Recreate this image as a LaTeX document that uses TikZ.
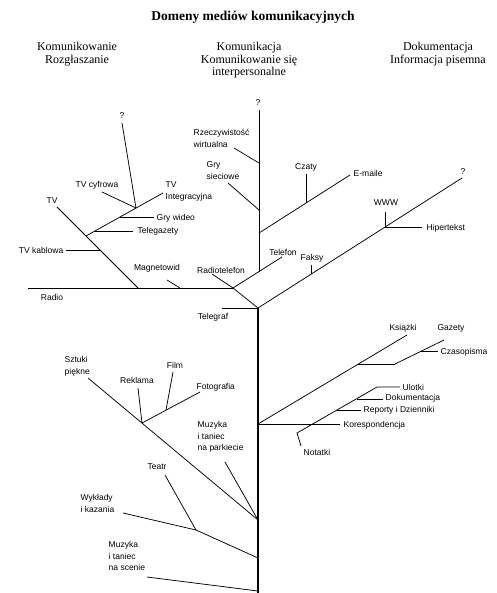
\documentclass[tikz,border=0pt]{standalone}
\usepackage{fontspec}
\setmainfont{Liberation Serif}
\setsansfont{Liberation Sans}
\usepackage{tikz}

\begin{document}
\begin{tikzpicture}[x=1pt, y=-1pt,
  lbl/.style={font=\sffamily\fontsize{8.5}{11.5}\selectfont, inner sep=0.5pt, align=left},
  head/.style={font=\fontsize{12}{12.5}\selectfont, align=center, anchor=north},
  br/.style={line width=0.75pt}]
\useasboundingbox (0,0) rectangle (496,593);

\node[font=\bfseries\fontsize{13.5}{15}\selectfont] (title) at (253,17) {Domeny mediów komunikacyjnych};
\node[head] (hbroad) at (77,39) {Komunikowanie\\Rozgłaszanie};
\node[head] (hinter) at (249,39) {Komunikacja\\Komunikowanie się\\interpersonalne};
\node[head] (hdoc) at (438,39) {Dokumentacja\\Informacja pisemna};

% junctions and line ends
\coordinate (T) at (258,308);  \coordinate (Bot) at (258,593);
\coordinate (J1) at (233,288); \coordinate (K) at (258,424);
\coordinate (radioL) at (28,288);
\coordinate (tvTop) at (57,207); \coordinate (tvEnd) at (138,288);
\coordinate (mgA) at (167,280);  \coordinate (mgB) at (180,288);
\coordinate (tkA) at (66,250);   \coordinate (tkB) at (100,250);
\coordinate (sbA) at (86,236);   \coordinate (sbB) at (163,193);
\coordinate (qA) at (122,123);   \coordinate (qB) at (136,208);
\coordinate (tcA) at (102,192);
\coordinate (gwA) at (120,217);  \coordinate (gwB) at (154,217);
\coordinate (tgA) at (95,231);   \coordinate (tgB) at (133,231);
\coordinate (cqA) at (259,110);  \coordinate (cqB) at (259,272);
\coordinate (teB) at (282,257);
\coordinate (rwA) at (234,148);  \coordinate (rwB) at (259,163);
\coordinate (gsA) at (228,183);  \coordinate (gsB) at (259,210);
\coordinate (emA) at (259,233);  \coordinate (emB) at (350,175);
\coordinate (czA) at (306,203);  \coordinate (czB) at (306,174);
\coordinate (rtA) at (212,274);  \coordinate (tfA) at (222,308);
\coordinate (rq) at (462,178);
\coordinate (fkA) at (311,274);  \coordinate (fkB) at (311,265);
\coordinate (wwA) at (385,227);  \coordinate (wwB) at (385,212);
\coordinate (hpB) at (422,227);
\coordinate (szA) at (88,378);   \coordinate (szB) at (258,520);
\coordinate (szJ) at (142,423);  \coordinate (rkA) at (138,388);
\coordinate (foB) at (200,392);
\coordinate (fiA) at (173,372);  \coordinate (fiB) at (166,410);
\coordinate (mpA) at (225,462);
\coordinate (teaA) at (165,475); \coordinate (teaJ) at (196,530);
\coordinate (wyA) at (123,513);  \coordinate (wyB) at (258,558);
\coordinate (msA) at (147,577);  \coordinate (msB) at (258,591);
\coordinate (ksB) at (407,335);
\coordinate (gzA) at (358,364);  \coordinate (gzB) at (395,364);
\coordinate (gzC) at (444,340);
\coordinate (cpA) at (421,351);  \coordinate (cpB) at (438,351);
\coordinate (koB) at (340,424);
\coordinate (ntA) at (301,446);  \coordinate (ntB) at (297,433);
\coordinate (ntC) at (377,387);  \coordinate (ntD) at (400,387);
\coordinate (dkA) at (357,399);  \coordinate (dkB) at (383,399);
\coordinate (rpA) at (337,410);  \coordinate (rpB) at (361,410);

% lines
\draw[line width=2pt] (T) -- (Bot);
\foreach \a/\b in {radioL/J1, tvTop/tvEnd, mgA/mgB, tkA/tkB, sbA/sbB, qA/qB,
    tcA/qB, gwA/gwB, tgA/tgB, cqA/cqB, J1/teB, rwA/rwB, gsA/gsB, emA/emB,
    czA/czB, T/rq, fkA/fkB, wwA/wwB, wwA/hpB, tfA/T, szA/szB, rkA/szJ,
    szJ/foB, fiA/fiB, mpA/szB, teaA/teaJ, msA/msB, K/ksB, gzB/gzC, cpA/cpB,
    K/koB, dkA/dkB, rpA/rpB}
  \draw[br] (\a) -- (\b);
\draw[br] (rtA) -- (J1) -- (T);
\draw[br] (wyA) -- (teaJ) -- (wyB);
\draw[br] (gzA) -- (gzB);
\draw[br] (ntA) -- (ntB) -- (ntC) -- (ntD);

% labels
\node[lbl] (qleft) at (122,116) {?};
\node[lbl] (qmid) at (258,103) {?};
\node[lbl] (qright) at (463,172) {?};
\node[lbl] (radio) at (52,297) {Radio};
\node[lbl] (tv) at (52,201) {TV};
\node[lbl, anchor=east] (tvkab) at (64,250) {TV kablowa};
\node[lbl] (magn) at (157,268) {Magnetowid};
\node[lbl] (tvcyf) at (97,185) {TV cyfrowa};
\node[lbl, anchor=north west] (tvint) at (165,181) {TV\\Integracyjna};
\node[lbl, anchor=west] (grywid) at (156,218) {Gry wideo};
\node[lbl, anchor=west] (telegaz) at (137,231) {Telegazety};
\node[lbl, anchor=north west] (rzecz) at (193,129) {Rzeczywistość\\wirtualna};
\node[lbl, anchor=north west] (grysiec) at (206,161) {Gry\\sieciowe};
\node[lbl] (czaty) at (306,167) {Czaty};
\node[lbl, anchor=west] (emaile) at (353,173) {E-maile};
\node[lbl] (telefon) at (283,252) {Telefon};
\node[lbl] (faksy) at (312,258) {Faksy};
\node[lbl] (www) at (386,203) {WWW};
\node[lbl, anchor=west] (hiper) at (426,228) {Hipertekst};
\node[lbl] (radiotel) at (221,270) {Radiotelefon};
\node[lbl] (telegraf) at (213,317) {Telegraf};
\node[lbl, anchor=north west] (sztuki) at (64,356) {Sztuki\\piękne};
\node[lbl] (reklama) at (137,380) {Reklama};
\node[lbl] (film) at (175,365) {Film};
\node[lbl, anchor=west] (foto) at (196,387) {Fotografia};
\node[lbl, anchor=north west] (parkiet) at (197,421) {Muzyka\\i taniec\\na parkiecie};
\node[lbl] (teatr) at (157,467) {Teatr};
\node[lbl, anchor=north west] (wyklady) at (80,494) {Wykłady\\i kazania};
\node[lbl, anchor=north west] (scena) at (108,541) {Muzyka\\i taniec\\na scenie};
\node[lbl] (ksiazki) at (403,328) {Książki};
\node[lbl] (gazety) at (451,328) {Gazety};
\node[lbl, anchor=west] (czasop) at (440,352) {Czasopisma};
\node[lbl, anchor=west] (ulotki) at (402,387) {Ulotki};
\node[lbl, anchor=west] (dokum) at (385,398) {Dokumentacja};
\node[lbl, anchor=west] (raporty) at (363,410) {Reporty i Dzienniki};
\node[lbl, anchor=west] (koresp) at (343,425) {Korespondencja};
\node[lbl, anchor=west] (notatki) at (303,452) {Notatki};
\end{tikzpicture}
\end{document}
